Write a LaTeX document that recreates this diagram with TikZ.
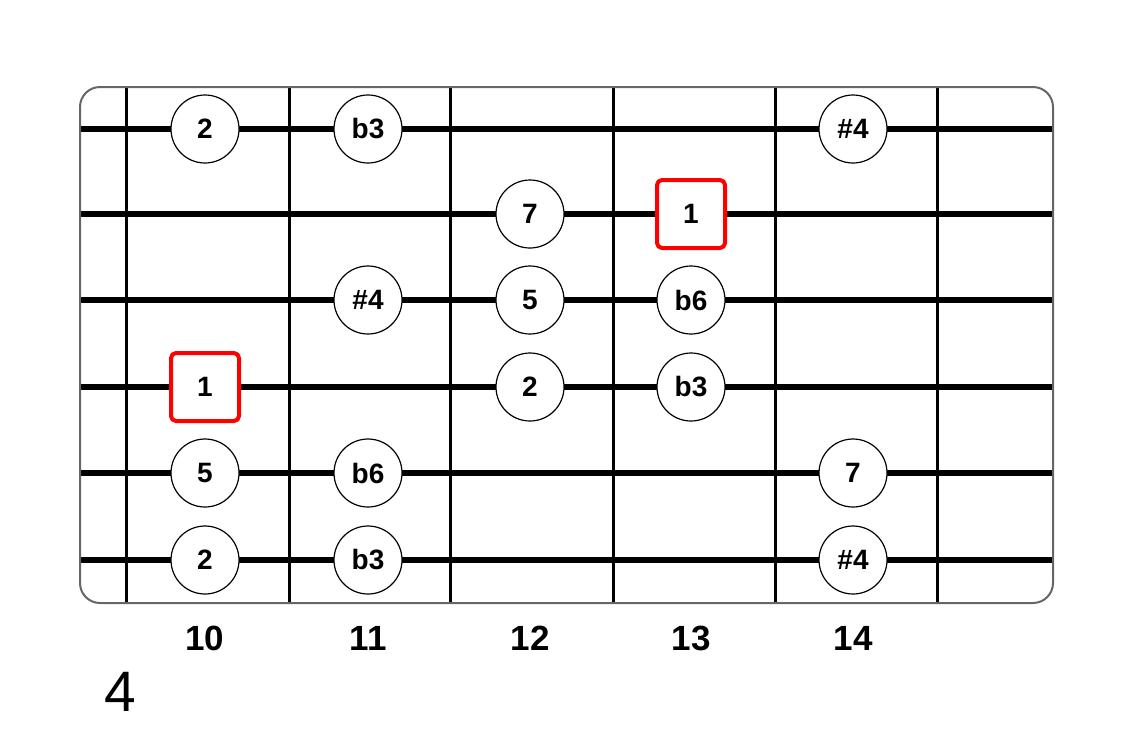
\documentclass[tikz,border=0pt]{standalone}
\usepackage{fontspec}
\setmainfont{Liberation Sans}
\begin{document}
\begin{tikzpicture}[x=1pt,y=-1pt,line join=round,line cap=butt,font=\bfseries\fontsize{28}{30}\selectfont]
		\tikzset{note/.style={circle,draw,line width=1.2pt,fill=white,minimum size=68pt,inner sep=0pt},
			root/.style={rectangle,draw=red,line width=4pt,rounded corners=5pt,fill=white,minimum size=68pt,inner sep=0pt}}
		\useasboundingbox (0,0) rectangle (1132,732);
		\foreach \y in {129,214,300,387,473,560}\draw[line width=6pt] (80,\y)--(1053,\y);
		\foreach \x in {126,289,450,613,775,937}\draw[line width=3pt] (\x,87)--(\x,603);
		\draw[black!60,line width=2pt,rounded corners=20pt] (80,87) rectangle (1053,603);
		\foreach \x/\y/\t in {205/129/2,368/129/b3,853/129/\#4,530/214/7,368/300/\#4,530/300/5,691/300/b6,530/387/2,691/387/b3,205/473/5,368/473/b6,853/473/7,205/560/2,368/560/b3,853/560/\#4}
			\node[note] (n-\x-\y) at (\x,\y) {\t};
		\foreach \x/\y in {691/214,205/387}\node[root] (r-\x-\y) at (\x,\y) {1};
		\foreach \x/\n in {205/10,368/11,530/12,691/13,853/14}\node[font=\bfseries\fontsize{35}{38}\selectfont] (fret\n) at (\x,638) {\n};
		\node[font=\fontsize{57}{60}\selectfont] (shape) at (120,692) {4};
\end{tikzpicture}
\end{document}
